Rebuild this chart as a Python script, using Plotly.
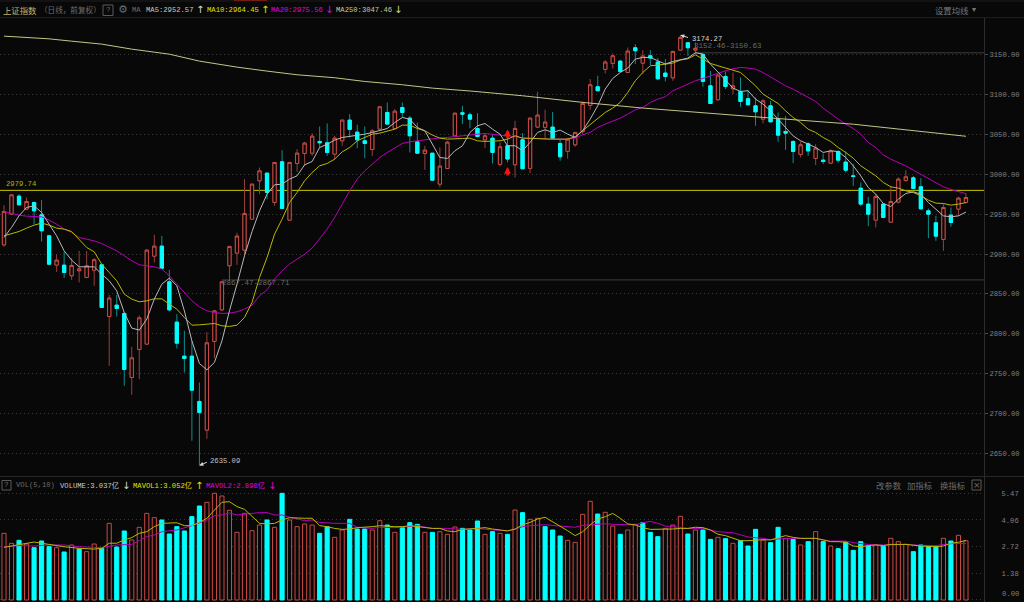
import plotly.graph_objects as go

# ---------- Daily candles (index points) ----------
open_ = [2911.5,2949.9,2972.5,2956.2,2964.5,2949.1,2922.8,2886.1,2886.1,2872.7,2879.0,2870.6,2879.8,2886.5,2821.8,2836.0,2825.6,2745.4,2780.5,2787.2,
2897.3,2909.9,2865.2,2814.7,2772.1,2772.1,2715.4,2679.5,2790.5,2830.1,2885.3,2901.1,2904.9,2943.7,2991.7,3001.3,2964.6,3015.5,2942.4,3013.4,
3025.9,3026.3,3041.0,3039.3,3025.1,3041.8,3067.7,3052.6,3041.8,3030.9,3056.4,3077.3,3057.2,3083.5,3070.2,3040.5,3025.9,3026.3,2987.5,3007.1,
3048.1,3076.9,3074.3,3057.2,3043.0,3045.1,3012.2,3035.6,3011.8,3043.1,3007.2,3059.0,3058.6,3059.0,3038.5,3028.5,3036.8,3053.5,3086.1,3109.5,
3131.2,3138.7,3141.6,3127.4,3158.3,3139.1,3148.3,3140.4,3126.6,3120.7,3155.4,3164.6,3155.4,3150.0,3110.7,3093.2,3122.4,3107.0,3103.6,3094.5,
3085.6,3068.9,3085.6,3068.9,3053.5,3040.9,3024.7,3038.0,3019.6,3017.6,3013.8,3028.4,3015.1,2997.9,2982.5,2962.5,2942.4,2962.5,2939.9,2965.0,
2992.1,2995.4,2984.2,2954.1,2939.1,2918.2,2948.7,2956.2,2964.5]
close = [2953.3,2974.1,2961.6,2965.8,2954.1,2929.1,2887.3,2892.3,2876.9,2885.7,2881.5,2885.3,2892.8,2833.1,2844.8,2831.8,2755.4,2770.0,2820.1,2904.9,
2909.9,2882.3,2830.1,2788.4,2769.2,2729.5,2701.6,2788.8,2828.9,2865.2,2909.5,2922.4,2950.8,2987.5,3004.2,2977.1,3014.7,2957.1,3014.7,3026.3,
3038.9,3047.6,3039.3,3027.2,3045.1,3067.7,3056.0,3043.0,3038.5,3054.3,3084.4,3062.7,3078.9,3077.3,3048.1,3026.3,3030.1,2992.5,3010.1,3040.1,
3076.4,3075.2,3068.9,3047.2,3048.1,3027.2,3034.3,3018.9,3057.3,3006.8,3070.2,3074.0,3065.2,3044.8,3021.8,3043.9,3052.3,3088.6,3112.0,3104.5,
3140.4,3148.3,3128.7,3154.1,3154.6,3147.9,3145.4,3119.5,3122.4,3153.7,3171.3,3158.3,3157.5,3116.2,3088.6,3124.1,3109.9,3110.7,3091.1,3086.9,
3078.1,3091.9,3065.6,3048.9,3051.4,3028.4,3036.8,3029.2,3032.6,3015.9,3029.2,3017.6,3005.0,2997.1,2962.5,2949.9,2972.1,2945.8,2965.8,2993.8,
2996.7,2982.1,2956.6,2949.9,2922.4,2958.3,2939.5,2970.0,2970.8]
high = [2961.2,2975.0,2975.0,2970.8,2965.8,2967.5,2924.1,2899.8,2902.8,2894.8,2904.0,2904.0,2894.8,2886.5,2848.9,2848.9,2826.8,2783.8,2823.1,2906.1,
2924.1,2922.8,2880.2,2824.7,2803.9,2791.3,2739.1,2802.2,2828.9,2866.5,2910.3,2926.6,2993.8,2987.5,3008.4,3001.3,3014.7,3030.1,3014.7,3031.4,
3040.5,3051.4,3059.7,3063.5,3048.1,3067.7,3075.2,3061.8,3059.7,3056.4,3085.2,3089.8,3081.4,3089.8,3073.1,3064.7,3035.5,3026.3,3033.4,3041.8,
3076.4,3085.6,3077.3,3076.4,3051.4,3050.1,3039.7,3054.4,3066.9,3051.5,3070.2,3103.2,3080.7,3077.8,3043.9,3045.2,3052.3,3091.1,3119.1,3123.3,
3142.9,3151.2,3142.9,3158.7,3162.9,3155.4,3155.4,3145.4,3144.1,3154.6,3174.27,3164.6,3165.0,3151.2,3129.5,3124.1,3128.7,3127.4,3121.2,3105.3,
3096.0,3093.9,3091.9,3077.2,3073.1,3042.6,3040.9,3040.1,3037.6,3025.9,3031.3,3030.1,3028.4,3012.6,2989.6,2971.6,2975.0,2963.3,2985.4,2995.9,
3005.0,2997.9,2995.0,2957.0,2947.8,2962.5,2958.3,2971.6,2975.8]
low = [2909.0,2949.1,2961.6,2955.0,2937.4,2915.7,2886.5,2877.7,2869.8,2867.3,2864.4,2869.8,2860.2,2833.1,2760.0,2821.8,2735.0,2723.7,2743.3,2787.2,
2889.4,2882.3,2828.1,2781.7,2751.7,2666.1,2635.09,2668.6,2769.6,2828.9,2866.5,2886.5,2897.8,2943.7,2975.0,2968.7,2960.4,2957.1,2942.4,3003.0,
3010.5,3023.0,3032.6,3023.0,3018.8,3035.5,3046.0,3032.6,3020.1,3023.0,3055.1,3062.7,3056.4,3071.0,3027.2,3026.3,3005.5,2992.5,2983.4,3007.1,
3048.1,3062.7,3057.7,3046.0,3032.6,3013.4,3009.6,3014.7,2995.9,3006.8,3001.4,3057.7,3043.9,3043.1,3016.8,3019.3,3034.3,3050.2,3080.7,3104.5,
3126.2,3132.4,3127.4,3127.4,3137.9,3125.3,3136.6,3117.8,3116.2,3117.0,3155.4,3148.3,3150.4,3109.5,3088.6,3092.4,3106.6,3100.3,3084.4,3086.9,
3060.6,3063.5,3064.7,3040.5,3030.5,3013.8,3020.9,3023.0,3011.3,3012.6,3012.6,3014.6,3002.1,2985.4,2960.0,2934.9,2933.2,2945.0,2939.9,2963.3,
2990.4,2981.2,2955.4,2919.9,2916.5,2904.0,2934.1,2947.8,2963.3]

# ---------- Moving averages ----------
ma5 = [2920.7,2933.2,2947.9,2958.3,2960.4,2952.1,2937.4,2922.8,2904.0,2892.3,2884.0,2884.0,2884.0,2874.8,2866.5,2853.9,2826.8,2807.2,2804.7,2818.5,
2843.5,2862.3,2869.8,2860.2,2828.9,2791.3,2762.9,2755.0,2764.2,2791.3,2828.9,2862.3,2897.8,2928.0,2954.1,2975.0,2986.7,2987.5,2993.8,2998.0,
3011.7,3015.9,3033.4,3037.6,3042.6,3046.0,3047.2,3048.1,3050.1,3052.2,3055.1,3057.2,3064.7,3071.0,3068.9,3058.5,3054.3,3037.6,3020.9,3019.7,
3029.3,3035.5,3052.2,3060.6,3063.5,3056.4,3050.1,3035.6,3035.6,3029.3,3039.8,3052.3,3055.6,3052.3,3055.2,3050.2,3046.0,3054.4,3069.0,3085.7,
3106.6,3119.9,3127.4,3132.9,3144.1,3146.2,3146.2,3142.0,3137.9,3141.2,3142.9,3145.4,3152.1,3150.4,3137.9,3127.4,3117.0,3107.8,3103.6,3104.5,
3094.0,3087.7,3079.3,3068.9,3058.5,3048.0,3041.8,3037.6,3033.4,3027.2,3029.2,3028.4,3020.9,3010.5,2997.9,2983.3,2975.0,2963.3,2959.5,2968.7,
2975.8,2977.9,2975.0,2964.5,2956.2,2947.8,2946.6,2947.8,2952.57]
ma10 = [2922.8,2925.7,2928.2,2932.4,2936.2,2938.7,2936.2,2932.4,2931.2,2928.2,2918.6,2908.2,2902.8,2887.3,2876.9,2866.5,2849.8,2843.5,2840.2,2841.4,
2843.9,2843.9,2837.2,2831.0,2820.5,2810.9,2811.3,2812.2,2813.0,2810.1,2809.3,2810.9,2820.5,2839.3,2870.6,2895.7,2924.9,2943.7,2964.6,2977.1,
2991.7,3002.1,3010.5,3013.4,3018.8,3028.0,3033.4,3041.8,3046.0,3050.1,3051.4,3053.5,3056.4,3061.4,3061.4,3057.2,3054.3,3048.9,3045.1,3043.9,
3044.7,3044.7,3045.1,3041.8,3041.0,3041.8,3041.8,3043.9,3048.1,3045.2,3044.8,3043.9,3043.9,3043.9,3043.9,3043.9,3046.9,3054.4,3062.7,3070.2,
3077.3,3082.8,3089.9,3102.4,3117.0,3127.4,3135.8,3136.6,3137.9,3139.1,3142.9,3144.5,3149.5,3144.1,3138.7,3135.8,3132.9,3130.3,3127.4,3119.1,
3110.7,3100.2,3093.9,3088.5,3079.3,3071.0,3064.7,3056.4,3052.2,3045.9,3040.9,3033.4,3027.2,3020.1,3010.5,3004.2,2997.9,2989.6,2984.2,2982.5,
2979.2,2977.1,2972.9,2967.5,2963.7,2963.3,2961.2,2962.5,2964.45]
ma20 = [2953.3,2950.8,2948.7,2947.4,2947.0,2946.6,2942.4,2937.4,2931.2,2927.0,2920.7,2918.6,2916.5,2913.2,2909.0,2904.0,2897.8,2891.5,2886.5,2885.2,
2884.0,2881.1,2872.7,2862.3,2851.8,2841.4,2833.9,2828.9,2826.8,2825.6,2826.0,2827.6,2831.0,2836.0,2847.7,2855.2,2868.6,2879.0,2887.4,2893.6,
2899.9,2907.4,2918.7,2931.2,2945.8,2962.5,2979.2,2993.8,3004.2,3012.6,3020.9,3027.2,3033.4,3038.5,3040.5,3041.8,3042.6,3043.9,3045.5,3046.0,
3047.2,3048.1,3048.9,3050.1,3051.0,3050.1,3048.9,3048.1,3046.9,3045.2,3045.2,3044.8,3043.9,3043.9,3043.1,3043.9,3045.2,3049.4,3052.3,3058.6,
3062.7,3066.1,3070.2,3075.2,3080.7,3083.6,3089.9,3094.0,3097.0,3104.5,3108.6,3112.8,3117.0,3119.9,3123.3,3126.6,3129.5,3132.0,3133.7,3132.9,
3131.6,3127.3,3121.9,3116.9,3110.6,3106.5,3101.0,3096.0,3091.0,3082.7,3075.2,3068.9,3062.6,3057.2,3050.1,3039.7,3033.4,3024.2,3018.8,3014.6,
3010.5,3005.0,3000.0,2994.6,2989.6,2984.2,2980.8,2978.3,2975.56]
ma250_idx = [0,3,6,9,13,17,22,26,31,35,39,44,48,53,57,62,66,69,77,85,101,113,128]
ma250 = [3172.9,3171.2,3169.5,3166.6,3162.9,3156.6,3150.3,3141.6,3134.1,3129.1,3124.5,3120.8,3116.1,3112.0,3107.8,3104.2,3100.9,3098.2,3089.9,3082.8,3071.1,3062.6,3047.46]

# ---------- Volume (亿) ----------
volume = [3.418,2.905,3.059,2.871,2.683,3.025,2.734,2.683,2.461,2.820,2.615,2.478,2.871,2.649,3.931,2.717,3.538,3.076,3.726,4.443,
4.221,4.102,3.384,3.760,3.538,4.273,4.819,5.007,5.469,5.332,4.597,3.469,4.443,3.555,3.845,4.102,3.726,5.469,4.102,3.760,
3.897,3.845,3.418,3.760,3.213,3.589,4.136,3.640,3.640,3.589,4.067,3.845,3.469,3.709,3.965,3.879,3.469,3.469,3.503,3.367,
3.743,3.674,3.589,4.050,3.367,3.503,3.418,3.367,4.614,4.478,4.136,4.187,3.760,3.589,3.281,3.059,2.957,4.392,5.059,4.409,
4.495,3.794,3.367,3.589,3.879,3.965,3.469,3.247,3.674,3.845,4.290,3.384,3.589,3.589,3.110,3.213,3.145,2.905,3.042,2.769,
3.623,3.076,2.939,3.726,3.162,3.110,2.820,2.991,3.503,2.991,2.769,2.632,2.974,2.546,2.991,2.769,2.820,2.751,3.162,2.991,
2.854,2.478,2.820,2.769,2.751,3.162,3.025,3.315,3.037]
vol_down = [2,4,5,6,8,10,13,15,16,21,22,23,24,25,26,35,37,42,43,46,47,48,51,53,54,55,57,61,62,63,65,67,69,72,73,74,79,82,85,86,87,91,93,94,96,98,99,100,102,103,105,107,109,111,112,113,114,115,117,121,122,123,124,126]
mavol1_idx = [0,2,4,6,8,10,12,13,14,15,16,17,18,19,20,21,23,24,25,26,27,28,29,30,31,32,33,34,35,36,37,38,40,41,42,43,44,45,46,47,49,50,52,53,54,55,57,58,59,60,61,63,64,65,67,68,69,70,71,72,73,74,75,76,77,78,79,80,81,82,83,84,85,86,88,89,90,91,92,93,94,95,96,97,98,99,100,101,102,103,104,105,106,108,109,110,111,112,113,114,115,116,117,118,120,122,124,125,126,127,128]
mavol1 = [2.70,2.85,2.97,2.85,2.73,2.65,2.61,2.65,2.91,2.91,3.08,3.20,3.42,3.50,3.76,3.93,3.96,3.81,3.81,3.98,4.19,4.61,5.01,5.04,4.79,4.65,4.27,3.93,3.90,3.93,4.10,4.22,4.19,4.19,3.81,3.76,3.67,3.62,3.64,3.71,3.76,3.81,3.76,3.76,3.81,3.76,3.67,3.67,3.54,3.50,3.62,3.67,3.71,3.64,3.54,3.64,3.85,3.98,4.15,4.24,4.02,3.81,3.55,3.30,3.50,3.85,4.15,4.27,4.44,4.19,3.90,3.85,3.71,3.62,3.62,3.64,3.67,3.67,3.73,3.71,3.59,3.37,3.30,3.16,3.04,3.04,3.08,3.09,3.08,3.21,3.30,3.21,3.16,3.16,3.08,2.99,2.99,2.96,2.77,2.73,2.79,2.82,2.79,2.85,2.85,2.77,2.73,2.77,2.91,2.96,3.052]
mavol2_idx = [0,2,4,6,8,10,12,13,15,17,18,19,20,21,23,25,27,28,29,30,31,32,34,35,36,37,38,40,41,42,44,46,47,49,50,52,55,57,59,61,63,65,67,68,69,70,72,74,76,77,79,80,81,84,85,86,87,88,89,90,91,93,94,95,97,99,101,102,103,105,108,110,112,113,115,117,120,122,124,126,128]
mavol2 = [2.73,2.79,2.77,2.82,2.82,2.73,2.70,2.68,2.82,2.85,3.04,3.25,3.33,3.50,3.59,3.81,4.10,4.32,4.36,4.46,4.36,4.41,4.48,4.48,4.36,4.36,4.24,4.07,4.10,3.98,3.93,3.93,3.73,3.67,3.73,3.71,3.81,3.67,3.67,3.62,3.67,3.59,3.55,3.62,3.76,3.81,3.86,3.79,3.73,3.83,3.88,3.91,3.88,3.85,3.96,4.03,3.93,3.79,3.76,3.71,3.67,3.67,3.59,3.50,3.45,3.23,3.16,3.09,3.13,3.16,3.16,3.02,3.02,2.94,2.85,2.82,2.85,2.80,2.79,2.89,2.898]

# ---------- Axis labels and reference levels ----------
price_ticks = [2650,2700,2750,2800,2850,2900,2950,3000,3050,3100,3150]
vol_ticks = [0,1.3675,2.735,4.1025,5.47]
vol_tick_text = ["","1.38","2.72","4.06","5.47"]
level_main = 2979.74
level_upper = 3152.0
level_upper_start = 92
level_lower = 2867.6
level_lower_start = 29
high_idx, high_val = 90, 3174.27
low_idx, low_val = 26, 2635.09
arrow_idx, arrow_upper, arrow_lower = 67, 3056, 3009

BG = "#080808"
RED = "#c94a45"; RED_W = "#96403c"
CYAN = "#00ffff"; CYAN_W = "#0c8f8f"
WHITE_L = "#b8b8b8"; YEL_L = "#b8b800"; MAG_L = "#b800b8"; PALE_L = "#c4c488"
GRID = "#383838"
MONO = "Liberation Mono, Noto Sans CJK SC"
CJK = "Noto Sans CJK SC"
LW = 1

W, H = 1024, 602
n = len(open_)
idx = list(range(n))
XR = [-0.532, 130.4]

fig = go.Figure()
# wicks
fig.add_trace(go.Candlestick(x=idx, open=open_, high=high, low=low, close=close, xaxis="x", yaxis="y",
    increasing=dict(line=dict(color=RED_W, width=1), fillcolor=BG),
    decreasing=dict(line=dict(color=CYAN_W, width=1), fillcolor=CYAN),
    whiskerwidth=0, hoverinfo="skip"))
# bodies
body_hi = [max(a, b) for a, b in zip(open_, close)]
body_lo = [min(a, b) for a, b in zip(open_, close)]
fig.add_trace(go.Candlestick(x=idx, open=open_, high=body_hi, low=body_lo, close=close, xaxis="x", yaxis="y",
    increasing=dict(line=dict(color=RED, width=1), fillcolor=BG),
    decreasing=dict(line=dict(color=CYAN, width=1), fillcolor=CYAN),
    whiskerwidth=0, hoverinfo="skip"))
for ys, col in ((ma20, MAG_L), (ma10, YEL_L), (ma5, WHITE_L)):
    fig.add_trace(go.Scatter(x=idx, y=ys, mode="lines", line=dict(color=col, width=LW), hoverinfo="skip", xaxis="x", yaxis="y"))
fig.add_trace(go.Scatter(x=ma250_idx, y=ma250, mode="lines", line=dict(color=PALE_L, width=LW), hoverinfo="skip", xaxis="x", yaxis="y"))

# volume
down = set(vol_down)
fig.add_trace(go.Bar(x=idx, y=volume, width=0.55, xaxis="x2", yaxis="y2", hoverinfo="skip",
    marker=dict(color=[CYAN if i in down else BG for i in idx],
                line=dict(color=[CYAN if i in down else RED for i in idx], width=1))))
fig.add_trace(go.Scatter(x=mavol2_idx, y=mavol2, mode="lines", line=dict(color=MAG_L, width=LW), xaxis="x2", yaxis="y2", hoverinfo="skip"))
fig.add_trace(go.Scatter(x=mavol1_idx, y=mavol1, mode="lines", line=dict(color=YEL_L, width=LW), xaxis="x2", yaxis="y2", hoverinfo="skip"))

ann = []
def txt(x, y, s, color, size=7.2, family=MONO, anchor="left"):
    ann.append(dict(xref="paper", yref="paper", x=x/W, y=1-y/H, text=s, showarrow=False, xanchor=anchor, yanchor="middle",
                    font=dict(color=color, size=size, family=family), borderpad=0, borderwidth=0))

GREY = "#6c6c6c"
# header row
txt(3, 10, "上证指数", "#c4b46c", 8.4, CJK)
txt(40, 10, "（日线，前复权）", "#6c6c6c", 7.6, CJK)
txt(108, 10, "?", GREY, 7.5, MONO, "center")
txt(123, 10, "⚙", GREY, 11, "DejaVu Sans", "center")
txt(132, 10, "MA", GREY)
txt(146, 10, "MA5:2952.57", "#c8c8c8")
txt(200, 10, "↑", "#d8d8d8", 10, "DejaVu Sans", "center")
txt(207, 10, "MA10:2964.45", "#e0e000")
txt(265, 10, "↑", "#e0e000", 10, "DejaVu Sans", "center")
txt(271, 10, "MA20:2975.56", "#e000e0")
txt(329, 10, "↓", "#e000e0", 10, "DejaVu Sans", "center")
txt(336, 10, "MA250:3047.46", "#c8c89c")
txt(398, 10, "↓", "#d8d890", 10, "DejaVu Sans", "center")
txt(935, 10, "设置均线", "#777777", 8.4, CJK)
txt(974, 10, "▾", "#777777", 8, "DejaVu Sans", "center")
# volume header
txt(6.7, 485, "?", GREY, 7.5, MONO, "center")
txt(16, 485, "VOL(5,10)", GREY)
txt(60, 485, "VOLUME:3.037亿", "#c8c8c8")
txt(126, 485, "↓", "#d8d8d8", 10, "DejaVu Sans", "center")
txt(133, 485, "MAVOL1:3.052亿", "#e0e000")
txt(199, 485, "↑", "#e0e000", 10, "DejaVu Sans", "center")
txt(206, 485, "MAVOL2:2.898亿", "#e000e0")
txt(272, 485, "↓", "#e000e0", 10, "DejaVu Sans", "center")
txt(876, 485, "改参数", GREY, 8.4, CJK)
txt(907, 485, "加指标", GREY, 8.4, CJK)
txt(940, 485, "换指标", GREY, 8.4, CJK)
txt(976.5, 485, "×", GREY, 9, "DejaVu Sans", "center")
# chart labels
txt(6, 184, "2979.74", "#b4b400")
txt(692, 39, "3174.27", "#d8d8d8")
txt(694, 46, "3152.46-3150.63", "#686868", 7.5)
txt(222, 283, "2867.47-2867.71", "#686868", 7.5)
txt(210, 461, "2635.09", "#c0c0c0")
txt(1002, 594, "0.00", "#808080")

# arrows from high/low to their labels
ann.append(dict(xref="x", yref="y", x=high_idx, y=high_val, ax=9, ay=3, axref="pixel", ayref="pixel", text="", showarrow=True,
                arrowhead=2, arrowsize=0.8, arrowwidth=1, arrowcolor="#d8d8d8"))
ann.append(dict(xref="x", yref="y", x=low_idx, y=low_val, ax=9, ay=-4, axref="pixel", ayref="pixel", text="", showarrow=True,
                arrowhead=2, arrowsize=0.8, arrowwidth=1, arrowcolor="#d8d8d8"))
# red markers
for v in (arrow_upper, arrow_lower):
    ann.append(dict(xref="x", yref="y", x=arrow_idx, y=v, ax=0, ay=10, axref="pixel", ayref="pixel", text="", showarrow=True,
                    arrowhead=2, arrowsize=0.55, arrowwidth=2.5, arrowcolor="#ff1010"))

shapes = [
    dict(type="line", xref="x", yref="y", x0=XR[0], x1=XR[1], y0=level_main, y1=level_main, line=dict(color="#c8c800", width=1), layer="below"),
    dict(type="line", xref="x", yref="y", x0=level_upper_start, x1=XR[1], y0=level_upper, y1=level_upper, line=dict(color="#3e3e3e", width=1), layer="below"),
    dict(type="line", xref="x", yref="y", x0=level_lower_start, x1=XR[1], y0=level_lower, y1=level_lower, line=dict(color="#3e3e3e", width=1), layer="below"),
    # frame lines
    dict(type="line", xref="paper", yref="paper", x0=0, x1=1, y0=1-17.5/H, y1=1-17.5/H, line=dict(color="#1c1c1c", width=1)),
    dict(type="line", xref="paper", yref="paper", x0=0, x1=1, y0=1-476.5/H, y1=1-476.5/H, line=dict(color="#262626", width=1)),
    dict(type="line", xref="paper", yref="paper", x0=0, x1=1, y0=1-1/H, y1=1-1/H, line=dict(color="#1c1c1c", width=1)),
    dict(type="line", xref="paper", yref="paper", x0=234/W, x1=267/W, y0=1-0.5/H, y1=1-0.5/H, line=dict(color="#6e1c14", width=1)),
    # small framed buttons
    dict(type="rect", xref="paper", yref="paper", x0=103/W, x1=113/W, y0=1-15.5/H, y1=1-5/H, line=dict(color="#5a5a5a", width=1)),
    dict(type="rect", xref="paper", yref="paper", x0=2/W, x1=11/W, y0=1-490/H, y1=1-480.5/H, line=dict(color="#5a5a5a", width=1)),
    dict(type="rect", xref="paper", yref="paper", x0=972/W, x1=981/W, y0=1-490/H, y1=1-480/H, line=dict(color="#5a5a5a", width=1)),
]

axis_common = dict(showgrid=False, zeroline=False, showticklabels=False, ticks="", range=XR, domain=[0, 984/W], showline=False, fixedrange=True)
fig.update_layout(
    width=W, height=H, autosize=False,
    margin=dict(l=0, r=0, t=0, b=0, pad=0),
    paper_bgcolor=BG, plot_bgcolor=BG, showlegend=False, barmode="overlay", boxgap=0.38,
    hovermode=False, annotations=ann, shapes=shapes,
    xaxis=dict(anchor="y", rangeslider=dict(visible=False), **axis_common),
    xaxis2=dict(anchor="y2", **axis_common),
    yaxis=dict(anchor="x", side="right", domain=[1-476/H, 1-18/H], range=[2622.0, 3195.6],
               tickvals=price_ticks, tickformat=".2f", ticks="outside", ticklen=3, tickcolor="#4a4a4a",
               tickfont=dict(color="#808080", size=7.2, family=MONO),
               showgrid=True, gridcolor=GRID, griddash="1px,3px", gridwidth=1, zeroline=False,
               showline=True, linecolor="#2c2c2c", linewidth=1, fixedrange=True),
    yaxis2=dict(anchor="x2", side="right", domain=[0, 1-477/H], range=[-0.103, 6.306],
                tickvals=vol_ticks, ticktext=vol_tick_text, ticks="", ticklabelstandoff=15,
                tickfont=dict(color="#808080", size=7.2, family=MONO),
                showgrid=True, gridcolor=GRID, griddash="1px,3px", gridwidth=1, zeroline=False,
                showline=True, linecolor="#2c2c2c", linewidth=1, fixedrange=True),
)

fig.write_html("out.html", config={"displayModeBar": False},
               post_script="document.body.style.margin='0';document.body.style.background='%s';document.body.style.overflow='hidden';" % BG)
